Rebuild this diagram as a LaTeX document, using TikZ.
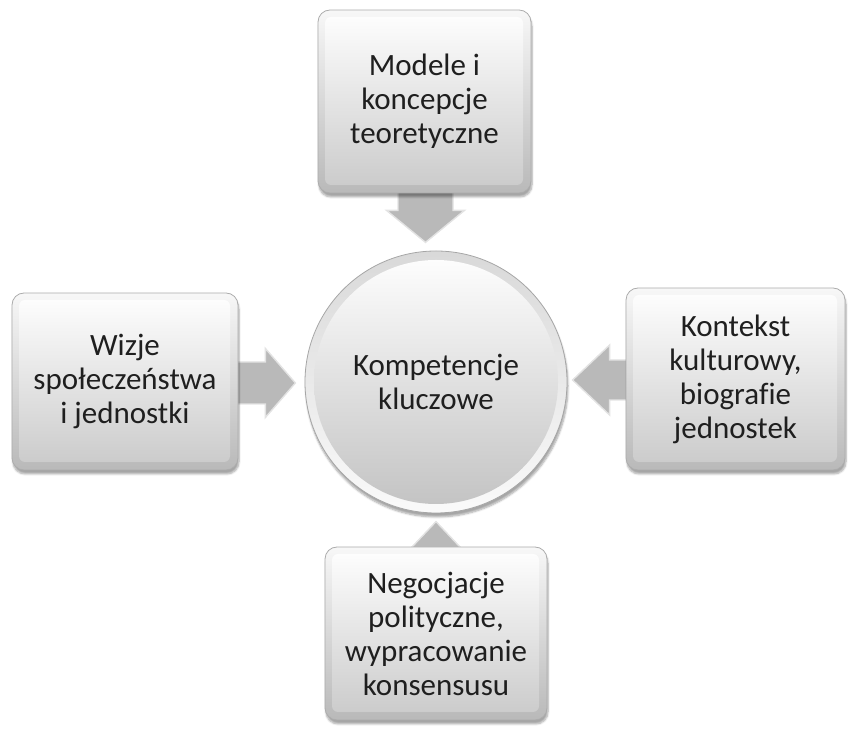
\documentclass[tikz,border=0pt]{standalone}
\usepackage{fontspec}
\setmainfont{Carlito}[Ligatures=CommonOff]
\usetikzlibrary{calc,shadows.blur}

\pgfdeclarelayer{background}
\pgfsetlayers{background,main}

\tikzset{
  label text/.style={text=black!88, align=center,
    font=\fontsize{31}{34}\selectfont},
  card/.style={label text, rectangle, rounded corners=12pt,
    draw=gray!65, line width=0.8pt,
    top color=gray!6, bottom color=gray!55,
    blur shadow={shadow xshift=1pt, shadow yshift=-4pt,
      shadow blur steps=6, shadow blur extra rounding=2pt, shadow opacity=35},
    path picture={
      \shade[top color=white, bottom color=gray!42, rounded corners=6pt]
        ([shift={(7pt,-7pt)}]path picture bounding box.north west) rectangle
        ([shift={(-8pt,8pt)}]path picture bounding box.south east);
    }},
  hub/.style={label text, circle, minimum size=262pt, inner sep=0pt,
    draw=gray!70, line width=0.8pt,
    top color=gray!30, bottom color=gray!4,
    blur shadow={shadow xshift=1pt, shadow yshift=-4pt,
      shadow blur steps=6, shadow opacity=35},
    path picture={
      \shade[top color=white, bottom color=gray!48]
        (path picture bounding box.center) circle[radius=122pt];
    }},
  blockarrow/.style={fill=gray!55, draw=gray!22, line width=1.4pt,
    line join=miter}
}

\begin{document}
\begin{tikzpicture}[x=1pt,y=1pt]
  \useasboundingbox (0,0) rectangle (849,730);

  % centre and the four surrounding cards
  \node[hub] (hub) at (436,348) {Kompetencje\\kluczowe};
  \node[card, minimum width=213pt, minimum height=183pt] (top)
    at (424.5,628.5) {Modele i\\koncepcje\\teoretyczne};
  \node[card, minimum width=226pt, minimum height=177pt] (left)
    at (125,348.5) {Wizje\\społeczeństwa\\i jednostki};
  \node[card, minimum width=219pt, minimum height=182pt] (right)
    at (735.5,351) {Kontekst\\kulturowy,\\biografie\\jednostek};
  \node[card, minimum width=222pt, minimum height=173pt] (bottom)
    at (436,96.5) {Negocjacje\\polityczne,\\wypracowanie\\konsensusu};

  % block arrows pointing at the centre, kept behind the cards
  \begin{pgfonlayer}{background}
    \begin{scope}[shift={(top.south)}, xshift=1pt, rotate=-90]
      \path[blockarrow] (-4,-27.5) -- (17,-27.5) -- (17,-39) -- (49,0)
        -- (17,39) -- (17,27.5) -- (-4,27.5) -- cycle;
    \end{scope}
    \begin{scope}[shift={(left.east)}, yshift=-1.5pt]
      \path[blockarrow] (-4,-21) -- (27,-21) -- (27,-34.5) -- (57,0)
        -- (27,34.5) -- (27,21) -- (-4,21) -- cycle;
    \end{scope}
    \begin{scope}[shift={(right.west)}, yshift=-1pt, rotate=180]
      \path[blockarrow] (-4,-20) -- (16,-20) -- (16,-35) -- (53,0)
        -- (16,35) -- (16,20) -- (-4,20) -- cycle;
    \end{scope}
    \begin{scope}[shift={(bottom.north)}, rotate=90]
      \path[blockarrow] (-30,-20) -- (-12,-20) -- (-12,-35) -- (25,0)
        -- (-12,35) -- (-12,20) -- (-30,20) -- cycle;
    \end{scope}
  \end{pgfonlayer}
\end{tikzpicture}
\end{document}
